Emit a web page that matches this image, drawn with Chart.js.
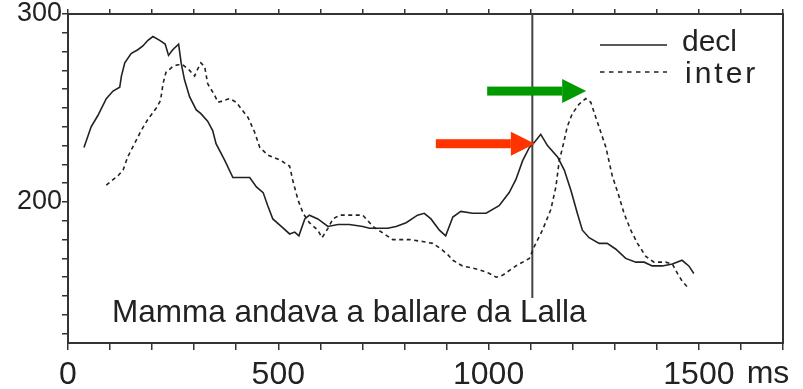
<!DOCTYPE html>
<html>
<head>
<meta charset="utf-8">
<script src="https://cdn.jsdelivr.net/npm/chart.js@4.4.1/dist/chart.umd.min.js"></script>
<style>
  html, body { margin: 0; padding: 0; background: #fff; }
  #wrap { width: 803px; height: 389px; }
</style>
</head>
<body>
<div id="wrap"><canvas id="myChart" width="803" height="389"></canvas></div>
<script>
// F0 contours (Hz) over time (ms)
var declMs = [38,55,71,91,107,123,127,135,150,166,178,190,202,218,231,239,249,263,269,277,289,305,316,332,344,352,373,392,416,432,448,464,475,487,507,527,539,549,563,574,594,618,642,669,701,717,760,780,804,831,847,863,883,898,915,934,962,994,1025,1049,1065,1081,1097,1110,1124,1140,1164,1180,1196,1211,1223,1239,1263,1282,1302,1326,1350,1370,1389,1413,1437,1460,1476,1488];
var declHz = [229,240,246,255,259,261,267,274,279,281,283,286,288,286,284,278,281,284,274,265,256,249,247,243,238,231,222,213,213,213,208,205,198,191,187,183,184,182,191,193,191,187,188,188,187,186,186,187,189,193,194,191,185,182,192,195,194,194,198,205,212,222,229,232,236,230,224,217,206,194,185,181,178,178,175,170,168,168,166,166,167,169,166,162];

var interMs = [91,119,131,142,158,174,190,210,220,226,233,249,261,273,289,301,309,316,325,332,348,357,385,400,428,444,456,475,507,527,535,547,559,574,594,604,618,630,646,701,709,725,752,772,812,843,867,887,903,915,938,978,1002,1018,1033,1065,1097,1108,1128,1148,1160,1168,1176,1187,1199,1215,1231,1243,1255,1267,1279,1286,1294,1310,1322,1338,1354,1374,1393,1421,1437,1449,1460,1476];
var interHz = [209,214,217,224,231,238,244,250,254,263,269,272,273,273,270,267,271,274,272,263,257,253,255,253,245,237,229,225,222,219,211,201,194,189,185,181,186,191,193,193,191,187,183,180,180,179,178,175,172,169,166,164,162,160,161,166,170,176,185,196,208,222,229,240,247,252,255,253,245,237,229,222,214,203,194,185,178,171,168,168,167,162,158,154];

// marker line and the two arrows (tip positions)
var markerMs = [1104, 1104];
var markerHz = [300, 149];
var arrowMs = [1110, 1232];
var arrowHz = [231, 259];
var arrowColors = ['#ff3300', '#009900'];

// axis ticks: every 100 ms / 10 Hz, labels only on some
var xTicks = [0,100,200,300,400,500,600,700,800,900,1000,1100,1200,1300,1400,1500,1600,1700];
var yTicks = [130,140,150,160,170,180,190,200,210,220,230,240,250,260,270,280,290,300];
var xLabels = [0, 500, 1000, 1500];
var yLabels = [200, 300];

var seriesNames = ['decl', 'inter'];
var caption = 'Mamma andava a ballare da Lalla';

var FONT = '"Liberation Sans", Arial, sans-serif';
var INK = '#222';

function toPoints(xs, ys) {
    return xs.map(function (x, i) { return { x: x, y: ys[i] }; });
}

function setTicks(values) {
    return function (s) {
        s.ticks = values.map(function (v) { return { value: v }; });
    };
}

function drawArrow(ctx, tipX, tipY, color) {
    var len = 99, head = 24, half = 12, shaft = 4.5;
    ctx.save();
    ctx.fillStyle = color;
    ctx.fillRect(tipX - len, tipY - shaft, len - head, shaft * 2);
    ctx.beginPath();
    ctx.moveTo(tipX, tipY);
    ctx.lineTo(tipX - head, tipY - half);
    ctx.lineTo(tipX - head, tipY + half);
    ctx.closePath();
    ctx.fill();
    ctx.restore();
}

// caption, legend, arrows and the "ms" unit
var extras = {
    id: 'extras',
    afterDatasetsDraw: function (chart) {
        var ctx = chart.ctx;
        var xs = chart.scales.x, ys = chart.scales.y;
        var area = chart.chartArea;

        for (var i = 0; i < arrowMs.length; i++) {
            drawArrow(ctx, xs.getPixelForValue(arrowMs[i]), ys.getPixelForValue(arrowHz[i]), arrowColors[i]);
        }

        ctx.save();
        ctx.fillStyle = INK;
        ctx.strokeStyle = INK;
        ctx.textBaseline = 'alphabetic';
        ctx.textAlign = 'left';

        // caption under the curves
        ctx.font = '31.5px ' + FONT;
        ctx.fillText(caption, area.left + 44, area.bottom - 21);

        // legend
        var lx = 600, lw = 67;
        ctx.lineWidth = 1.5;
        ctx.beginPath();
        ctx.moveTo(lx, 45);
        ctx.lineTo(lx + lw, 45);
        ctx.stroke();
        ctx.setLineDash([4.5, 4.5]);
        ctx.beginPath();
        ctx.moveTo(lx, 72);
        ctx.lineTo(lx + lw, 72);
        ctx.stroke();
        ctx.setLineDash([]);
        ctx.font = '30px ' + FONT;
        ctx.fillText(seriesNames[0], 682, 51);
        ctx.letterSpacing = '3px';
        ctx.fillText(seriesNames[1], 685, 83);
        ctx.letterSpacing = '0px';

        // unit on the time axis
        ctx.font = '32px ' + FONT;
        ctx.textAlign = 'center';
        ctx.fillText('ms', area.right - 15, 383);
        ctx.restore();
    }
};

var ctx = document.getElementById('myChart').getContext('2d');
var chart = new Chart(ctx, {
    type: 'line',
    data: {
        datasets: [{
            label: seriesNames[0],
            data: toPoints(declMs, declHz),
            borderColor: INK,
            borderWidth: 1.6,
            pointRadius: 0,
            tension: 0,
            fill: false
        }, {
            label: seriesNames[1],
            data: toPoints(interMs, interHz),
            borderColor: INK,
            borderWidth: 1.6,
            borderDash: [4, 3.5],
            pointRadius: 0,
            tension: 0,
            fill: false
        }, {
            label: 'marker',
            data: toPoints(markerMs, markerHz),
            borderColor: '#444',
            borderWidth: 2,
            pointRadius: 0,
            fill: false
        }]
    },
    options: {
        responsive: false,
        animation: false,
        layout: { padding: 0 },
        plugins: {
            legend: { display: false },
            tooltip: { enabled: false }
        },
        scales: {
            x: {
                type: 'linear',
                position: 'bottom',
                min: 0,
                max: 1700,
                grid: { drawOnChartArea: false, tickLength: 7, color: '#333', lineWidth: 1.5 },
                border: { color: '#333', width: 2 },
                ticks: {
                    autoSkip: false,
                    maxRotation: 0,
                    padding: 6,
                    color: INK,
                    font: { family: FONT, size: 32 },
                    callback: function (v) { return xLabels.indexOf(v) >= 0 ? v : ''; }
                },
                afterBuildTicks: setTicks(xTicks),
                afterFit: function (s) { s.height = 46; s.paddingLeft = 0; s.paddingRight = 0; }
            },
            x2: {
                type: 'linear',
                position: 'top',
                display: true,
                min: 0,
                max: 1700,
                grid: { drawOnChartArea: false, tickLength: 5, color: '#333', lineWidth: 1.5 },
                border: { color: '#333', width: 2 },
                ticks: { autoSkip: false, display: false },
                afterBuildTicks: setTicks(xTicks),
                afterFit: function (s) { s.height = 14; s.paddingLeft = 0; s.paddingRight = 0; }
            },
            y: {
                type: 'linear',
                position: 'left',
                min: 125,
                max: 300,
                grid: { drawOnChartArea: false, tickLength: 6, color: '#333', lineWidth: 1.5 },
                border: { color: '#333', width: 2 },
                ticks: {
                    autoSkip: false,
                    padding: 0,
                    color: INK,
                    font: { family: FONT, size: 27 },
                    callback: function (v) { return yLabels.indexOf(v) >= 0 ? v : ''; }
                },
                afterBuildTicks: setTicks(yTicks),
                afterFit: function (s) { s.width = 68; s.paddingTop = 0; s.paddingBottom = 0; }
            },
            y2: {
                type: 'linear',
                position: 'right',
                display: true,
                min: 125,
                max: 300,
                grid: { drawOnChartArea: false, drawTicks: false },
                border: { color: '#333', width: 2 },
                ticks: { display: false },
                afterFit: function (s) { s.width = 20; s.paddingTop = 0; s.paddingBottom = 0; }
            }
        }
    },
    plugins: [extras]
});
</script>
</body>
</html>
